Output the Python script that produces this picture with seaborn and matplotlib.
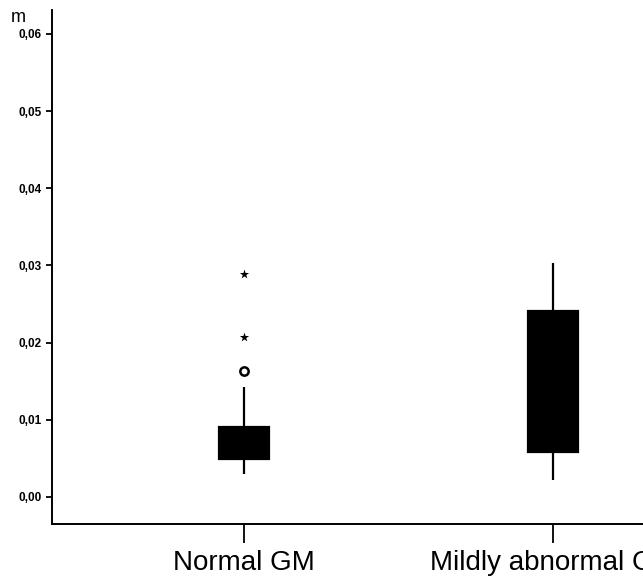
import pandas as pd
import matplotlib.pyplot as plt
import seaborn as sns

# values (whisker ends, quartiles, outliers)
groups = ["Normal GM", "Mildly abnormal GM"]
normal_vals = [0.0029, 0.0038, 0.0043, 0.0047, 0.0049, 0.0053, 0.0057, 0.0061, 0.0065,
               0.0070, 0.0076, 0.0083, 0.0091, 0.0142, 0.0163, 0.0207, 0.0289]
mild_vals = [0.0022, 0.0041, 0.0058, 0.0095, 0.0125, 0.0180, 0.0241, 0.0275, 0.0303]
outlier_vals = [0.0163]          # drawn as circles
extreme_vals = [0.0207, 0.0289]  # drawn as stars
yticks = [0.00, 0.01, 0.02, 0.03, 0.04, 0.05, 0.06]
ytick_labels = ["0,00", "0,01", "0,02", "0,03", "0,04", "0,05", "0,06"]

df = pd.DataFrame({
    "group": [groups[0]] * len(normal_vals) + [groups[1]] * len(mild_vals),
    "value": normal_vals + mild_vals,
})
out_df = pd.DataFrame({"group": [groups[0]] * len(outlier_vals), "value": outlier_vals})
ext_df = pd.DataFrame({"group": [groups[0]] * len(extreme_vals), "value": extreme_vals})

sns.set_style("white")
plt.rcParams["font.family"] = ["Liberation Sans", "DejaVu Sans"]
plt.rcParams["text.color"] = "black"
plt.rcParams["xtick.color"] = "black"
plt.rcParams["ytick.color"] = "black"
plt.rcParams["axes.labelcolor"] = "black"

fig = plt.figure(figsize=(6.43, 5.86), dpi=100)
ax = fig.add_axes([0.081, 0.106, 0.919, 0.877])

sns.boxplot(data=df, x="group", y="value", order=groups, ax=ax, width=0.16,
            color="black", saturation=1, linecolor="black", linewidth=1.6,
            showfliers=False, showcaps=False)
sns.stripplot(data=out_df, x="group", y="value", order=groups, ax=ax, jitter=False,
              marker="o", size=6, color="white", edgecolor="black", linewidth=1.8)
sns.stripplot(data=ext_df, x="group", y="value", order=groups, ax=ax, jitter=False,
              marker="*", size=7, color="black")

ax.set_xlim(-0.621, 1.291)
ax.set_ylim(-0.0035, 0.0631)
ax.set_yticks(yticks)
ax.set_yticklabels(ytick_labels, fontsize=8.5, fontweight="bold", color="black")
ax.set_xlabel("")
ax.set_ylabel("")
ax.tick_params(axis="x", length=14, width=1.3, pad=5, labelsize=20,
               color="black", labelcolor="black")
ax.tick_params(axis="y", length=4.5, width=1.3, pad=3, color="black", labelcolor="black")
ax.tick_params(bottom=True, left=True)

sns.despine(ax=ax)
for side in ["left", "bottom"]:
    ax.spines[side].set_linewidth(1.4)
    ax.spines[side].set_color("black")

fig.text(0.017, 0.9625, "m", fontsize=13, va="baseline", ha="left", color="black")

plt.savefig("out.png", dpi=100)
